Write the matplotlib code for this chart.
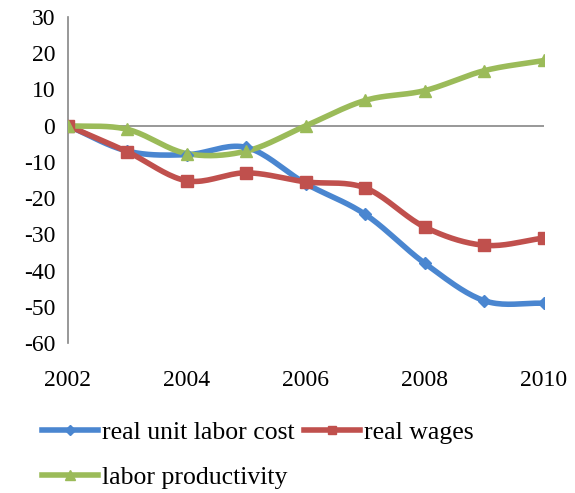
import numpy as np
import matplotlib
matplotlib.use('Agg')
import matplotlib.pyplot as plt

years = [2002, 2003, 2004, 2005, 2006, 2007, 2008, 2009, 2010]
unit_labor_cost = [0, -7, -8, -6, -16, -24.5, -38, -48.3, -49]
real_wages = [0, -7.2, -15.2, -13, -15.5, -17.2, -28, -33, -31]
productivity = [0, -1, -7.7, -7, 0, 7, 9.7, 15.2, 18]


# сглаживание как в Excel (Catmull-Rom)
def smooth(x, y, n=20):
    x = np.asarray(x, float)
    y = np.asarray(y, float)
    px = np.concatenate([[2*x[0]-x[1]], x, [2*x[-1]-x[-2]]])
    py = np.concatenate([[2*y[0]-y[1]], y, [2*y[-1]-y[-2]]])
    xs, ys = [], []
    t = np.linspace(0, 1, n, endpoint=False)
    for i in range(1, len(px)-2):
        for p, out in ((px, xs), (py, ys)):
            p0, p1, p2, p3 = p[i-1], p[i], p[i+1], p[i+2]
            out.extend(0.5*((2*p1) + (-p0+p2)*t + (2*p0-5*p1+4*p2-p3)*t**2 + (-p0+3*p1-3*p2+p3)*t**3))
    xs.append(x[-1])
    ys.append(y[-1])
    return xs, ys


plt.rcParams['font.family'] = ['Liberation Serif', 'DejaVu Serif']
plt.rcParams['axes.unicode_minus'] = False

fig = plt.figure(figsize=(5.75, 4.93), dpi=100)
ax = fig.add_axes([0.118, 0.304, 0.828, 0.6615])

series = [
    (unit_labor_cost, '#4a86d0', 'D', 6, 'real unit labor cost'),
    (real_wages, '#c0504d', 's', 8, 'real wages'),
    (productivity, '#9bbb59', '^', 9, 'labor productivity'),
]
handles = []
for vals, col, mk, ms, lab in series:
    sx, sy = smooth(years, vals)
    ax.plot(sx, sy, color=col, lw=4, solid_capstyle='round', zorder=3)
    ax.plot(years, vals, ls='none', marker=mk, ms=ms, color=col, zorder=4)
    h, = ax.plot([], [], color=col, lw=4, marker=mk, ms=ms*0.8, label=lab)
    handles.append(h)

ax.axhline(0, color='#868686', lw=1.2, zorder=1)
ax.set_xlim(2002, 2010)
ax.set_ylim(-60, 30)
ax.set_yticks(range(-60, 31, 10))
ax.set_xticks([2002, 2004, 2006, 2008, 2010])
for s in ['top', 'right', 'bottom']:
    ax.spines[s].set_visible(False)
ax.spines['left'].set_color('#868686')
ax.spines['left'].set_linewidth(1.2)
ax.tick_params(axis='y', length=0, labelsize=17, pad=9)
ax.tick_params(axis='x', length=0, labelsize=17, pad=19)

leg = fig.legend([handles[0], handles[2], handles[1]],
                 [handles[0].get_label(), handles[2].get_label(), handles[1].get_label()],
                 ncol=2, loc='upper left', bbox_to_anchor=(0.056, 0.166), frameon=False,
                 fontsize=18.5, handlelength=2.15, handletextpad=0.15, columnspacing=0.4,
                 labelspacing=0.85, borderaxespad=0)

fig.savefig('out.png', dpi=100)
